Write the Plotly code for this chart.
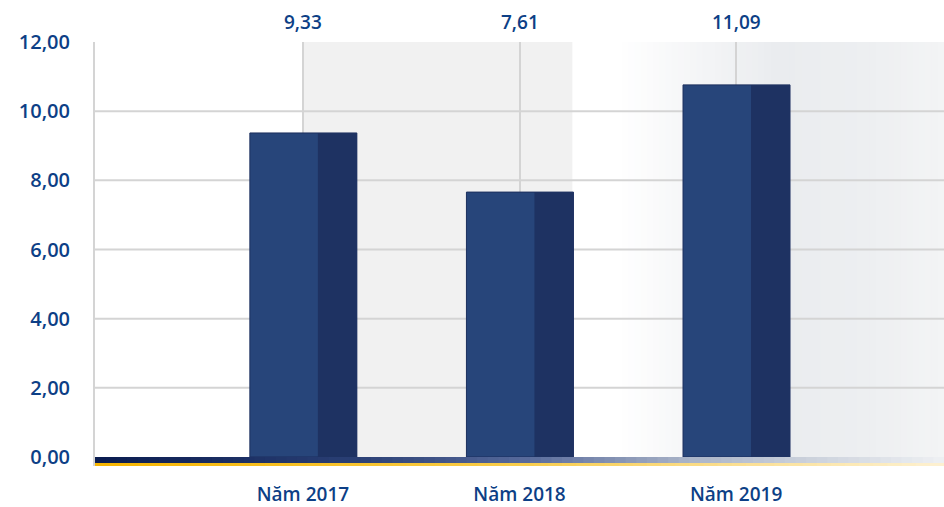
import plotly.graph_objects as go

categories = ["Năm 2017", "Năm 2018", "Năm 2019"]
bar_heights = [9.37, 7.66, 10.76]      # bar tops as drawn
value_labels = [9.33, 7.61, 11.09]     # printed values above the plot
y_ticks = [0, 2, 4, 6, 8, 10, 12]

xpos = [1, 2, 3]
TXT = "#0d3f86"
FONT = "Open Sans"

fig = go.Figure()

# two-tone bars
fig.add_bar(x=xpos, y=bar_heights, width=0.494, offset=-0.245,
            marker=dict(color="#27457a", line=dict(color="#1c2f5e", width=1)),
            hoverinfo="skip")
fig.add_bar(x=xpos, y=bar_heights, width=0.18, offset=0.069,
            marker=dict(color="#1e3262", line=dict(width=0)),
            hoverinfo="skip")

shapes = []

def hexmix(c1, c2, t):
    a = [int(c1[i:i + 2], 16) for i in (1, 3, 5)]
    b = [int(c2[i:i + 2], 16) for i in (1, 3, 5)]
    return "#%02x%02x%02x" % tuple(round(a[k] + (b[k] - a[k]) * t) for k in range(3))

def grad(stops, x_start, x_end, n, **kw):
    w = (x_end - x_start) / n
    for i in range(n):
        p = (i + 0.5) / n
        for j in range(len(stops) - 1):
            if stops[j][0] <= p <= stops[j + 1][0]:
                t = (p - stops[j][0]) / (stops[j + 1][0] - stops[j][0])
                c = hexmix(stops[j][1], stops[j + 1][1], t)
                break
        x1 = min(x_start + (i + 1) * w + 0.012, x_end)
        shapes.append(dict(type="rect", xref="x", x0=x_start + i * w, x1=x1,
                           fillcolor=c, line=dict(width=0), **kw))

# background panels (below grid)
shapes.append(dict(type="rect", xref="x", yref="y", x0=1, x1=2.245, y0=0, y1=12,
                   fillcolor="#f1f1f1", line=dict(width=0), layer="below"))
grad([(0, "#ffffff"), (0.12, "#ffffff"), (0.55, "#eaecef"), (0.8, "#edeff1"), (1, "#f3f4f5")],
     2.245, 3.96, 60, yref="y", y0=0, y1=12, layer="below")

# horizontal gridlines
for v in y_ticks[1:-1]:
    shapes.append(dict(type="line", xref="x", yref="y", x0=0.04, x1=3.96, y0=v, y1=v,
                       line=dict(color="#d4d4d4", width=2), layer="between"))

# bottom band (navy gradient) and gold line
grad([(0, "#0a1c50"), (0.3, "#2a3f74"), (0.5, "#55689a"), (0.7, "#aab4c8"), (0.85, "#cdd3dd"), (1, "#eef0f3")],
     0.04, 3.96, 80, yref="y", yanchor=0, ysizemode="pixel", y0=-6, y1=0, layer="above")
grad([(0, "#f5b400"), (0.5, "#f8cc4a"), (0.8, "#fbe29e"), (1, "#fdf1d2")],
     0.04, 3.96, 60, yref="y", yanchor=0, ysizemode="pixel", y0=-9, y1=-6, layer="above")

annotations = [
    dict(x=x, y=1, xref="x", yref="paper", yanchor="bottom", yshift=5,
         text=f"{v:.2f}".replace(".", ","), showarrow=False,
         font=dict(family=FONT, size=19, color=TXT, weight=600))
    for x, v in zip(xpos, value_labels)
]

fig.update_layout(
    width=944, height=507,
    margin=dict(l=95, r=0, t=42, b=41),
    paper_bgcolor="white", plot_bgcolor="white",
    barmode="overlay", showlegend=False,
    separators=",.",
    shapes=shapes, annotations=annotations,
    font=dict(family=FONT, color=TXT),
    xaxis=dict(range=[0.04, 3.96], tickvals=xpos, ticktext=categories,
               showgrid=True, gridcolor="#d4d4d4", gridwidth=2, zeroline=False,
               ticks="", ticklabelstandoff=15, automargin=False,
               tickfont=dict(family=FONT, size=19, color=TXT, weight=600)),
    yaxis=dict(range=[-0.26, 12], tickvals=y_ticks, tickformat=".2f",
               showgrid=False, zeroline=False, showline=True, linecolor="#d4d4d4", linewidth=2,
               ticks="", ticklabelstandoff=19, automargin=False,
               tickfont=dict(family=FONT, size=20, color=TXT, weight=600)),
)

fig.write_html("out.html", config={"displayModeBar": False},
               post_script="document.body.style.margin='0';document.body.style.padding='0';")
